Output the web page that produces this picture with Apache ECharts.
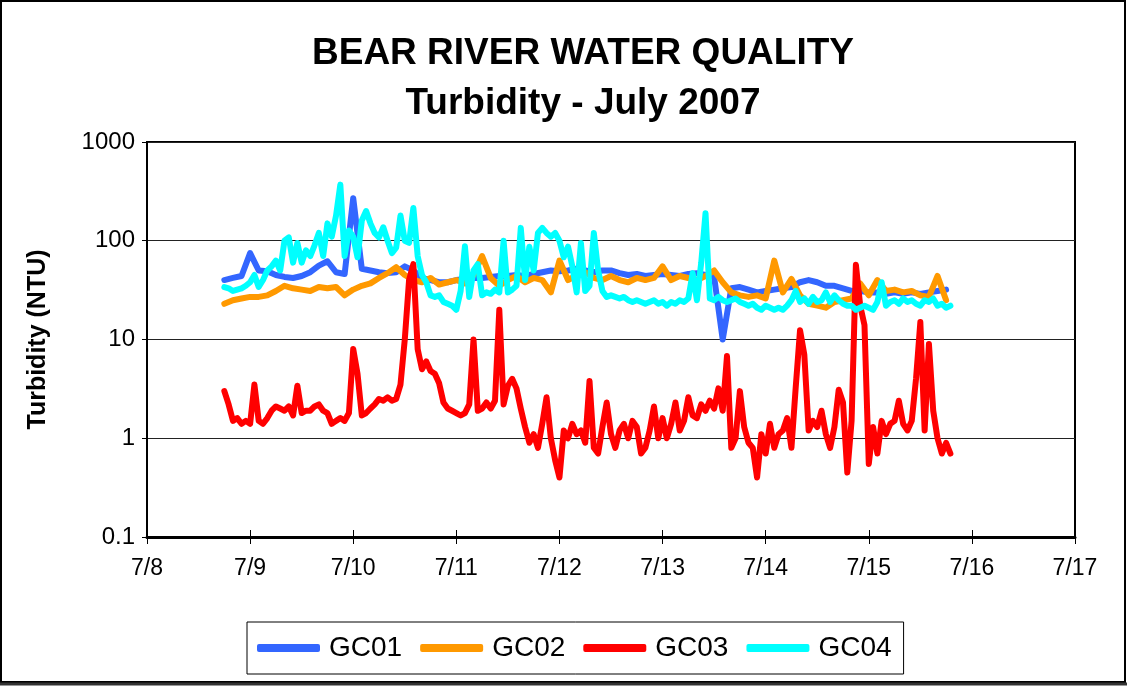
<!DOCTYPE html>
<html>
<head>
<meta charset="utf-8">
<script src="https://cdn.jsdelivr.net/npm/echarts@6/dist/echarts.min.js"></script>
<style>
html,body{margin:0;padding:0;background:#fff;}
#chart{width:1127px;height:686px;}
</style>
</head>
<body>
<div id="chart"></div>
<script>
// Day-of-July tick labels for the x axis
const xTickDays = [8, 9, 10, 11, 12, 13, 14, 15, 16, 17];
const seriesNames = ['GC01', 'GC02', 'GC03', 'GC04'];
// Records start on 7/8 at 18:00 (day 8.75)
const startDay = 8.75;
const stepHoursCoarse = 2; // GC01, GC02 every 2 hours
const stepHoursFine = 1;   // GC03, GC04 every hour

const gc01 = [40,42,44,75,50,49,45,43,42,44,
  48,56,62,48,46,270,52,50,48,47,
  48,55,50,42,40,38,38,40,41,42,
  42,43,44,44,45,44,46,48,50,49,
  50,52,50,48,50,50,47,45,46,44,
  45,46,45,44,46,47,45,43,10,33,
  34,32,30,31,32,33,34,38,40,38,
  35,35,33,31,31,30,30,29,30,29,
  30,29,30,31,32];

const gc02 = [23,25,26,27,27,28,31,35,33,32,
  31,34,33,34,28,32,35,37,42,47,
  54,45,40,38,42,36,38,40,37,45,
  70,42,35,40,44,38,42,40,30,63,
  40,45,48,42,40,44,40,38,42,40,
  42,55,40,44,42,40,44,50,38,30,
  28,27,28,26,63,30,41,28,23,22,
  21,24,25,26,37,28,40,31,32,30,
  31,28,27,44,25];

const gc03 = [3.0,2.2,1.5,1.6,1.4,1.5,1.4,3.5,1.5,1.4,
  1.6,1.9,2.1,2.0,1.9,2.1,1.7,3.4,1.8,1.9,
  1.9,2.1,2.2,1.9,1.8,1.4,1.5,1.6,1.5,1.8,
  8.0,4.5,1.7,1.8,2.0,2.2,2.5,2.4,2.6,2.4,
  2.5,3.5,10,40,58,8,5.0,6.0,4.8,4.5,
  3.6,2.3,2.0,1.9,1.8,1.7,1.8,2.2,10,1.9,
  2.0,2.3,2.0,2.4,20,2.2,3.4,4.0,3.2,2.0,
  1.3,0.9,1.1,0.8,1.4,2.6,1.0,0.6,0.4,1.2,
  1.0,1.4,1.1,1.2,0.9,3.8,0.8,0.7,1.3,2.3,
  1.1,0.8,1.2,1.4,1.0,1.5,1.3,0.7,0.8,1.2,
  2.1,1.0,1.6,1.0,1.4,2.3,1.2,1.5,2.6,1.7,
  1.6,2.2,1.9,2.4,2.0,3.2,1.9,6.8,0.8,1.0,
  3.0,1.3,0.9,0.8,0.4,1.1,0.7,1.4,0.8,1.1,
  1.2,1.6,0.8,3.3,12.4,7.0,1.2,1.5,1.3,1.9,
  1.1,0.8,1.3,3.1,2.3,0.45,1.5,57,22,14,
  0.55,1.3,0.7,1.5,1.1,1.4,1.5,2.4,1.4,1.2,
  1.5,4.0,15,1.2,9.0,1.9,1.0,0.7,0.9,0.7];

const gc04 = [34,33,31,32,33,35,38,45,34,40,
  50,55,63,50,100,108,60,95,60,80,
  70,90,120,70,150,110,180,370,70,127,
  110,68,160,200,150,120,108,137,100,75,
  85,180,100,95,215,70,45,38,28,27,
  28,24,23,22,20,31,88,27,50,58,
  28,30,29,32,30,100,30,32,35,135,
  40,87,50,120,135,120,110,120,100,68,
  87,55,30,95,31,35,120,50,31,27,
  28,27,26,27,25,24,25,24,23,24,
  25,23,24,22,24,23,25,24,26,47,
  25,60,190,26,25,27,25,24,25,26,
  24,23,22,23,21,20,22,21,20,21,
  20,22,25,31,24,26,23,27,24,25,
  30,24,28,25,23,22,22,20,21,22,
  21,20,24,38,22,24,25,23,26,24,
  25,23,22,25,24,26,22,23,21,22];

const colors = ['#3366FF', '#FF9900', '#FF0000', '#00FFFF'];

function pair(values, stepHours) {
  return values.map((v, i) => [startDay + i * stepHours / 24, v]);
}

const dataSets = [
  pair(gc01, stepHoursCoarse),
  pair(gc02, stepHoursCoarse),
  pair(gc03, stepHoursFine),
  pair(gc04, stepHoursFine)
];

const chart = echarts.init(document.getElementById('chart'), null, {renderer: 'canvas'});
const font = 'Liberation Sans, Arial, sans-serif';

const option = {
  animation: false,
  backgroundColor: '#fff',
  title: {
    text: 'BEAR RIVER WATER QUALITY\nTurbidity - July 2007',
    left: 578,
    top: 24,
    textAlign: 'center',
    textStyle: {fontFamily: font, fontWeight: 'bold', fontSize: 37, lineHeight: 50, color: '#000'}
  },
  legend: {
    data: seriesNames,
    left: 247,
    top: 622,
    padding: [12, 12, 12, 10],
    borderColor: '#000',
    borderWidth: 1,
    itemGap: 18,
    itemWidth: 63,
    itemHeight: 8,
    icon: 'roundRect',
    textStyle: {fontFamily: font, fontSize: 28, color: '#000', padding: [0, 0, 0, 4]}
  },
  grid: {
    left: 147, right: 52, top: 142, bottom: 149,
    show: true, borderColor: '#000', borderWidth: 2, backgroundColor: 'transparent'
  },
  xAxis: [{
    type: 'value',
    min: xTickDays[0],
    max: xTickDays[xTickDays.length - 1],
    interval: 1,
    axisLine: {show: true, lineStyle: {color: '#000', width: 3}},
    axisTick: {show: true, length: 7, lineStyle: {color: '#000', width: 1}},
    axisLabel: {fontFamily: font, fontSize: 23, color: '#000', margin: 20,
      formatter: v => '7/' + Math.round(v)},
    splitLine: {show: false}
  }, {
    type: 'value',
    position: 'bottom',
    min: xTickDays[0],
    max: xTickDays[xTickDays.length - 1],
    interval: 1,
    axisLine: {show: false},
    axisTick: {show: true, inside: true, length: 7, lineStyle: {color: '#000', width: 1}},
    axisLabel: {show: false},
    splitLine: {show: false}
  }],
  yAxis: {
    type: 'log',
    logBase: 10,
    min: 0.1,
    max: 1000,
    name: 'Turbidity (NTU)',
    nameLocation: 'middle',
    nameGap: 96,
    nameTextStyle: {fontFamily: font, fontWeight: 'bold', fontSize: 25, color: '#000'},
    axisLine: {show: true, lineStyle: {color: '#000', width: 2}},
    axisTick: {show: true, length: 5, lineStyle: {color: '#000', width: 1}},
    axisLabel: {fontFamily: font, fontSize: 24, color: '#000', margin: 12,
      formatter: v => String(parseFloat(Number(v).toPrecision(3)))},
    splitLine: {show: true, lineStyle: {color: '#222', width: 1}},
    minorTick: {show: false}
  },
  graphic: [{
    type: 'rect',
    shape: {x: 1, y: 1, width: 1124, height: 681},
    style: {fill: 'none', stroke: '#000', lineWidth: 2},
    silent: true,
    z: 100
  }, {
    type: 'line',
    shape: {x1: 0, y1: 684, x2: 1127, y2: 684},
    style: {stroke: '#333', lineWidth: 3},
    silent: true,
    z: 100
  }],
  series: seriesNames.map((name, idx) => ({
    name: name,
    type: 'line',
    xAxisIndex: 0,
    data: dataSets[idx],
    showSymbol: false,
    symbol: 'none',
    color: colors[idx],
    lineStyle: {width: 6, color: colors[idx], cap: 'round', join: 'round'},
    itemStyle: {color: colors[idx]},
    z: 2 + idx
  }))
};

chart.setOption(option);
</script>
</body>
</html>
